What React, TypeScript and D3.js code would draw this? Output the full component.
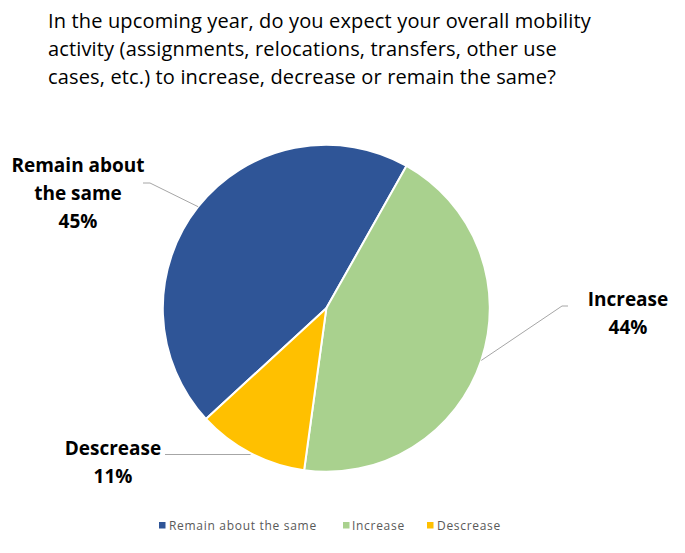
import React from "react";
import * as d3 from "d3";

const categories = ["Remain about the same", "Increase", "Descrease"];
const values = [45, 44, 11];
const colors = ["#2F5597", "#A9D18E", "#FFC000"];
const labelLines = [["Remain about", "the same", "45%"], ["Increase", "44%"], ["Descrease", "11%"]];
const titleLines = [
  "In the upcoming year, do you expect your overall mobility",
  "activity (assignments, relocations, transfers, other use",
  "cases, etc.) to increase, decrease or remain the same?",
];

const W = 685, H = 553;
const cx = 326.3, cy = 308.3, R = 163.5;
const startDeg = 227.4;

// label anchors (center x, first baseline y) and leader endpoints (text side)
const labelPos = [
  { x: 78, y: 172, lx: 143, ly: 183, hx: 150 },
  { x: 628, y: 306, lx: 568, ly: 306, hx: 562 },
  { x: 113, y: 455, lx: 165, ly: 454.5, hx: 165 },
];

export default function App() {
  const pie = d3
    .pie<number>()
    .sort(null)
    .value((d) => d)
    .startAngle((startDeg * Math.PI) / 180)
    .endAngle(((startDeg + 360) * Math.PI) / 180);
  const arcs = pie(values);
  const arc = d3.arc<d3.PieArcDatum<number>>().innerRadius(0).outerRadius(R);
  const font = "'Open Sans', Lato, sans-serif";

  const legendItems = [
    { sx: 156, tx: 169 },
    { sx: 340, tx: 352 },
    { sx: 424, tx: 437 },
  ];

  return (
    <svg
      width={W}
      height={H}
      style={{ position: "absolute", left: 0, top: 0, background: "#fff" }}
      fontFamily={font}
    >
      <rect width={W} height={H} fill="#fff" />
      {titleLines.map((t, i) => (
        <text key={i} x={48} y={28 + i * 28} fontSize={20} letterSpacing={0.15} fill="#000">
          {t}
        </text>
      ))}
      <g transform={`translate(${cx},${cy})`}>
        {arcs.map((a, i) => (
          <path key={i} d={arc(a) || ""} fill={colors[i]} stroke="#fff" strokeWidth={2} />
        ))}
      </g>
      {arcs.map((a, i) => {
        const mid = (a.startAngle + a.endAngle) / 2;
        const px = cx + R * Math.sin(mid);
        const py = cy - R * Math.cos(mid);
        const p = labelPos[i];
        const path = d3.path();
        path.moveTo(p.lx, p.ly);
        path.lineTo(p.hx, p.ly);
        path.lineTo(px, i === 2 ? p.ly : py);
        return <path key={i} d={path.toString()} fill="none" stroke="#A6A6A6" strokeWidth={1} />;
      })}
      {labelLines.map((lines, i) => (
        <g key={i}>
          {lines.map((l, j) => (
            <text
              key={j}
              x={labelPos[i].x}
              y={labelPos[i].y + j * 28}
              textAnchor="middle"
              fontSize={19}
              fontWeight="bold"
              fill="#000"
            >
              {l}
            </text>
          ))}
        </g>
      ))}
      {categories.map((c, i) => (
        <g key={i}>
          <rect x={legendItems[i].sx + 3} y={522} width={6.5} height={6.5} fill={colors[i]} />
          <text x={legendItems[i].tx} y={530} fontSize={12} letterSpacing={0.7} fill="#595959">
            {c}
          </text>
        </g>
      ))}
    </svg>
  );
}
